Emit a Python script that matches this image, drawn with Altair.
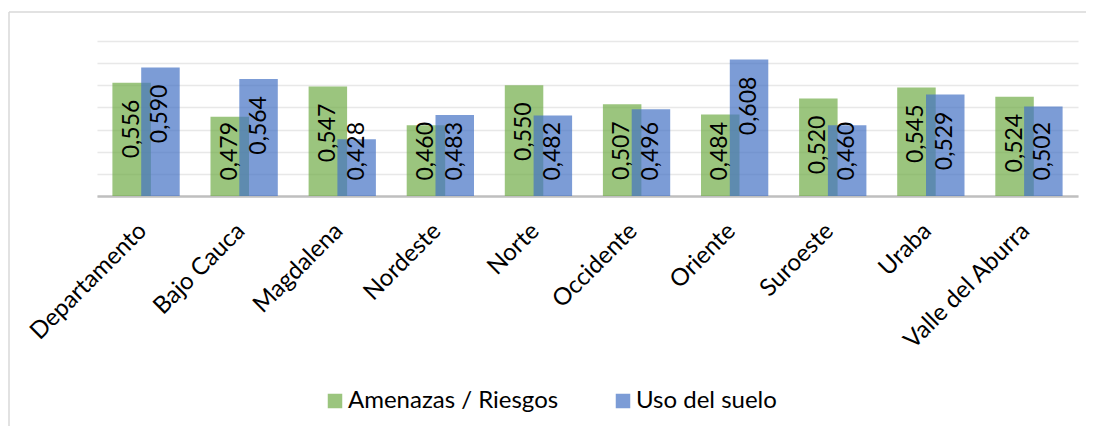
import altair as alt
import pandas as pd

categories = ["Departamento", "Bajo Cauca", "Magdalena", "Nordeste", "Norte",
              "Occidente", "Oriente", "Suroeste", "Uraba", "Valle del Aburra"]
amenazas = [0.556, 0.479, 0.547, 0.460, 0.550, 0.507, 0.484, 0.520, 0.545, 0.524]
uso_suelo = [0.590, 0.564, 0.428, 0.483, 0.482, 0.496, 0.608, 0.460, 0.529, 0.502]
series = ["Amenazas / Riesgos", "Uso del suelo"]
colors = ["#70AD47", "#4472C4"]
y_min, y_max = 0.3, 0.65

rows = []
for c, a, u in zip(categories, amenazas, uso_suelo):
    rows.append({"cat": c, "serie": series[0], "v": a})
    rows.append({"cat": c, "serie": series[1], "v": u})
df = pd.DataFrame(rows)

FONT = "Lato"
W, H = 981, 155
BW = 38.5
OFF = 14.4

x_axis = alt.Axis(labelAngle=-45, labelAlign="right", labelBaseline="middle",
                  labelFont=FONT, labelFontSize=24, labelColor="#000000",
                  labelPadding=31, labelOffset=-3, labelLimit=400,
                  ticks=False, domainColor="#BFBFBF",
                  domainWidth=2.5, grid=False)
x_scale = alt.Scale(paddingInner=0, paddingOuter=0)
y_scale = alt.Scale(domain=[y_min, y_max], zero=False, nice=False)
y_axis = alt.Axis(labels=False, ticks=False, domain=False, grid=True,
                  values=[0.3, 0.35, 0.4, 0.45, 0.5, 0.55, 0.6, 0.65],
                  gridColor="#E8E8E8", gridWidth=1.3)

x = alt.X("cat:N", sort=categories, title=None, scale=x_scale, axis=x_axis)
y = alt.Y("v:Q", title=None, scale=y_scale, axis=y_axis)
color = alt.Color("serie:N", scale=alt.Scale(domain=series, range=colors),
                  legend=alt.Legend(title=None, orient="none", direction="horizontal",
                                    legendX=226, legendY=348, symbolType="square",
                                    symbolSize=210, symbolStrokeWidth=0,
                                    symbolOpacity=0.7, labelLimit=400,
                                    labelFont=FONT, labelFontSize=24, labelColor="#000000",
                                    labelOffset=1, columnPadding=52, padding=0))

base = alt.Chart(df)

def bars(s, off):
    return base.transform_filter(alt.datum.serie == s).mark_bar(
        width=BW, xOffset=off, opacity=0.7).encode(
        x=x, y=y, y2=alt.datum(y_min), color=color)

def labels(s, off):
    return base.transform_filter(alt.datum.serie == s).transform_calculate(
        lab="replace(format(datum.v, '.3f'), '.', ',')",
        ly="max(datum.v, 0.5055)"
    ).mark_text(angle=270, align="right", baseline="middle", dx=-17, xOffset=off,
                font=FONT, fontSize=23, color="#000000").encode(
        x=x, y=alt.Y("ly:Q", title=None, scale=y_scale, axis=y_axis), text="lab:N")

frame_top = alt.Chart(pd.DataFrame({"k": [0]})).mark_rule(color="#D9D9D9", strokeWidth=1.5).encode(
    x=alt.value(-88), x2=alt.value(1000), y=alt.value(-29))
frame_left = alt.Chart(pd.DataFrame({"k": [0]})).mark_rule(color="#D9D9D9", strokeWidth=1.5).encode(
    x=alt.value(-88), y=alt.value(-29), y2=alt.value(400))

chart = alt.layer(
    bars(series[0], -OFF), bars(series[1], OFF),
    labels(series[0], -OFF), labels(series[1], OFF),
    frame_top, frame_left
).properties(
    width=W, height=H,
    autosize=alt.AutoSizeParams(type="none"),
    padding={"left": 89, "top": 33, "right": 8, "bottom": 230}
).configure_view(stroke=None)

chart.save("out.html", embed_options={"renderer": "svg", "actions": False})
